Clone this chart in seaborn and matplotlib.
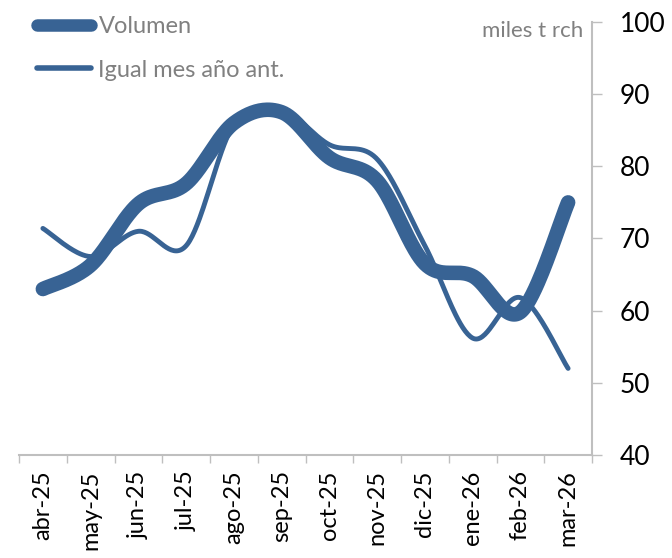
import numpy as np
import pandas as pd
import matplotlib
matplotlib.use("Agg")
import matplotlib.pyplot as plt
import seaborn as sns

months = ["abr-25", "may-25", "jun-25", "jul-25", "ago-25", "sep-25",
          "oct-25", "nov-25", "dic-25", "ene-26", "feb-26", "mar-26"]
volumen = [63.0, 66.3, 74.8, 77.6, 86.0, 87.5, 81.2, 78.0, 66.5, 64.8, 59.8, 75.0]
igual_mes = [71.4, 67.5, 71.0, 69.0, 85.8, 87.8, 83.0, 81.0, 69.0, 56.2, 61.8, 52.0]

BLUE = "#386394"
GREY = "#808080"
AXIS = "#BFBFBF"


def smooth(y, n=40):
    # excel-like smoothed line (bezier through the points)
    x = np.arange(len(y)) + 0.5
    p = np.column_stack([x, y])
    pts = np.vstack([p[0], p, p[-1]])
    out = []
    t = np.linspace(0, 1, n)[:, None]
    for i in range(1, len(pts) - 2):
        p0, p3 = pts[i], pts[i + 1]
        c1 = p0 + (pts[i + 1] - pts[i - 1]) / 6
        c2 = p3 - (pts[i + 2] - pts[i]) / 6
        seg = ((1 - t) ** 3) * p0 + 3 * ((1 - t) ** 2) * t * c1 + 3 * (1 - t) * t ** 2 * c2 + t ** 3 * p3
        out.append(seg if i == 1 else seg[1:])
    out = np.vstack(out)
    return pd.DataFrame({"x": out[:, 0], "y": out[:, 1]})


sns.set_style("white")
plt.rcParams['font.family'] = ['Lato', 'DejaVu Sans']

fig = plt.figure(figsize=(6.72, 5.58), dpi=100)
ax = fig.add_axes([19 / 672, 1 - 455 / 558, (592 - 19) / 672, (455 - 22) / 558])

sns.lineplot(data=smooth(volumen), x="x", y="y", sort=False, ax=ax, color=BLUE,
             linewidth=10.5, solid_capstyle="round", solid_joinstyle="round", label="Volumen")
sns.lineplot(data=smooth(igual_mes), x="x", y="y", sort=False, ax=ax, color=BLUE,
             linewidth=3.5, solid_capstyle="round", solid_joinstyle="round", label="Igual mes año ant.")

ax.set_xlim(0, 12)
ax.set_ylim(40, 100)
ax.set_xlabel("")
ax.set_ylabel("")

ax.set_xticks(np.arange(0, 13))
ax.set_xticklabels([])
ax.set_xticks(np.arange(len(months)) + 0.5, minor=True)
ax.set_xticklabels(months, minor=True, rotation=90, fontsize=17)
ax.tick_params(axis="x", which="major", bottom=True, length=6, width=1, color=AXIS, direction="out")
ax.tick_params(axis="x", which="minor", bottom=False, length=0, pad=11, labelcolor="black")

ax.yaxis.tick_right()
ax.set_yticks(np.arange(40, 101, 10))
ax.tick_params(axis="y", right=True, length=7, width=1, color=AXIS, direction="out",
               labelsize=19, pad=13, labelcolor="black")

for s in ["top", "left"]:
    ax.spines[s].set_visible(False)
for s in ["bottom", "right"]:
    ax.spines[s].set_color(AXIS)
    ax.spines[s].set_linewidth(1.5)

ax.text(0.985, 0.98, "miles t rch", transform=ax.transAxes, ha="right", va="center",
        color=GREY, fontsize=16)

leg = ax.legend(loc="upper left", bbox_to_anchor=(0.015, 1.035), frameon=False, fontsize=17,
                handlelength=2.3, handletextpad=0.3, labelspacing=0.95, borderaxespad=0.0)
for txt in leg.get_texts():
    txt.set_color(GREY)
leg.get_lines()[0].set_linewidth(9)
leg.get_lines()[1].set_linewidth(4)

fig.savefig("out.png", dpi=100)
